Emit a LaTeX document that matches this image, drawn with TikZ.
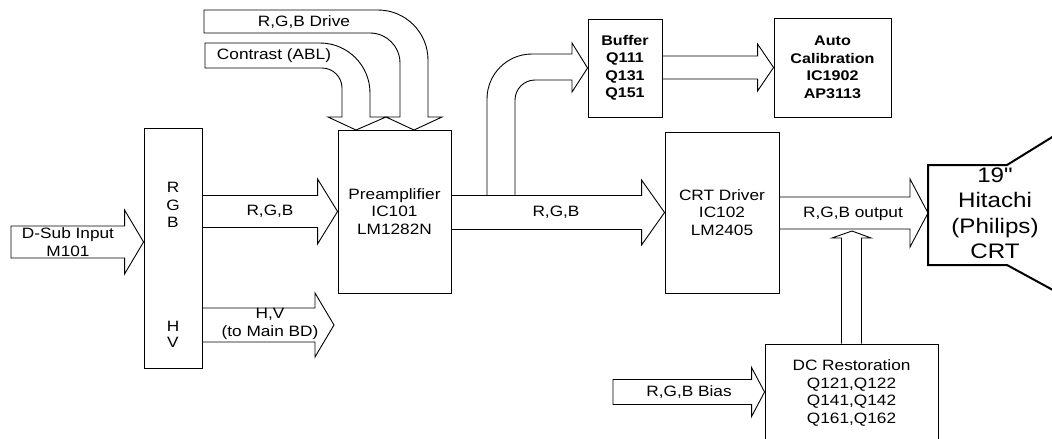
\documentclass[tikz,border=0pt]{standalone}
\usepackage{fontspec}
\setmainfont{Liberation Sans}[FakeStretch=1.15,Ligatures=TeXOff]
\usetikzlibrary{calc}

% straight block arrow: start, tip, half body, half head, head length
\newcommand{\fatarrow}[5]{%
  \draw[fill=white] let \p1=(#1), \p2=(#2) in
    (\x1,\y2+#3) -- (\x2-#5,\y2+#3) -- (\x2-#5,\y2+#4) -- (\x2,\y2)
    -- (\x2-#5,\y2-#4) -- (\x2-#5,\y2-#3) -- (\x1,\y2-#3) -- cycle;}

\begin{document}
\begin{tikzpicture}[x=1pt,y=-1pt,line width=0.9pt,
  every node/.style={font=\fontsize{15}{17.5}\selectfont,align=center,inner sep=0pt},
  blk/.style={draw,line width=0.9pt},
  bld/.style={font=\fontsize{14}{17.5}\selectfont\bfseries},
  big/.style={font=\fontsize{21}{25.5}\selectfont}]
\useasboundingbox (0,0) rectangle (1052,439);

% boxes
\node[blk,minimum width=58pt,minimum height=240pt] (rgb) at (173,248) {};
\node[blk,minimum width=113pt,minimum height=163pt] (pre) at (394.5,211.5) {Preamplifier\\IC101\\LM1282N};
\node[blk,minimum width=74pt,minimum height=98pt,bld] (buf) at (625,68) {Buffer\\Q111\\Q131\\Q151};
\node[blk,minimum width=117pt,minimum height=99pt,bld] (auto) at (832.5,67.5) {Auto\\Calibration\\IC1902\\AP3113};
\node[blk,minimum width=114pt,minimum height=161pt] (drv) at (722,212.5) {CRT Driver\\IC102\\LM2405};
\node[blk,minimum width=173pt,minimum height=98pt] (dc) at (851.5,393) {DC Restoration\\Q121,Q122\\Q141,Q142\\Q161,Q162};
\node (rgbin) at (173,205) {R\\G\\B};
\node[font=\fontsize{15}{16}\selectfont] (hvin) at (173,334) {H\\V};

% free ends
\coordinate (dsub) at (11,242);
\coordinate (hvend) at (334,325);
\coordinate (crtin) at (928,213);
\coordinate (bias) at (613,392);
\coordinate (dcup) at (852,231);

% straight arrows
\fatarrow{dsub}{rgb.west |- dsub}{16pt}{32pt}{19pt}
\fatarrow{rgb.east}{pre.west}{16pt}{32.5pt}{20pt}
\fatarrow{rgb.east}{hvend}{17pt}{32pt}{19pt}
\fatarrow{pre.east}{drv.west}{17pt}{32.5pt}{23pt}
\fatarrow{buf.east}{auto.west}{11.5pt}{23.5pt}{16pt}
\fatarrow{drv.east}{crtin}{16pt}{34pt}{18pt}
\fatarrow{bias}{dc.west |- bias}{12.5pt}{24.5pt}{13pt}
\draw[fill=white] let \p1=(dc.north), \p2=(dcup) in
  (\x1-10pt,\y1) -- (\x1-10pt,\y2-7pt) -- (\x1-19.5pt,\y2-7pt) -- (\p2)
  -- (\x1+19.5pt,\y2-7pt) -- (\x1+10pt,\y2-7pt) -- (\x1+10pt,\y1);

% bent arrows into the preamplifier
\draw[fill=white] (204,10) -- (378,10) .. controls (405.6,10) and (428,32.4) .. (428,60)
  -- (428,117) -- (442,117) -- (414,130) -- (386,117) -- (400,117) -- (400,63)
  .. controls (400,46.4) and (386.6,33) .. (370,33) -- (204,33) -- cycle;
\draw[fill=white] (205,43) -- (320,43) .. controls (347.6,43) and (370,65.4) .. (370,93)
  -- (370,117) -- (386,117) -- (356,130) -- (328,117) -- (342,117) -- (342,88)
  .. controls (342,77) and (333,68) .. (322,68) -- (205,68) -- cycle;

% branch to the buffer
\draw (487,195) -- (487,99) .. controls (487,74.1) and (507.1,54) .. (532,54) -- (572,54)
  -- (572,43) -- (buf.west) -- (572,92) -- (572,80) -- (535,80)
  .. controls (524,80) and (515,89) .. (515,100) -- (515,195);

% CRT
\draw[line width=2pt] (1062,131) -- (1007,165) -- (928,165) -- (928,265) -- (1007,265) -- (1062,295);
\node[big] (crt) at (995,213.5) {19"\\Hitachi\\(Philips)\\CRT};

% labels
\node (lbdsub) at (68,242) {D-Sub Input\\M101};
\node (lbrgb) at (270,211) {R,G,B};
\node (lbhv) at (270,324) {H,V\\(to Main BD)};
\node (lbpre) at (556,212) {R,G,B};
\node (lbout) at (853,214) {R,G,B output};
\node (lbbias) at (689,392) {R,G,B Bias};
\node (lbdrive) at (304,22) {R,G,B Drive};
\node (lbcon) at (274,56) {Contrast (ABL)};
\end{tikzpicture}
\end{document}
